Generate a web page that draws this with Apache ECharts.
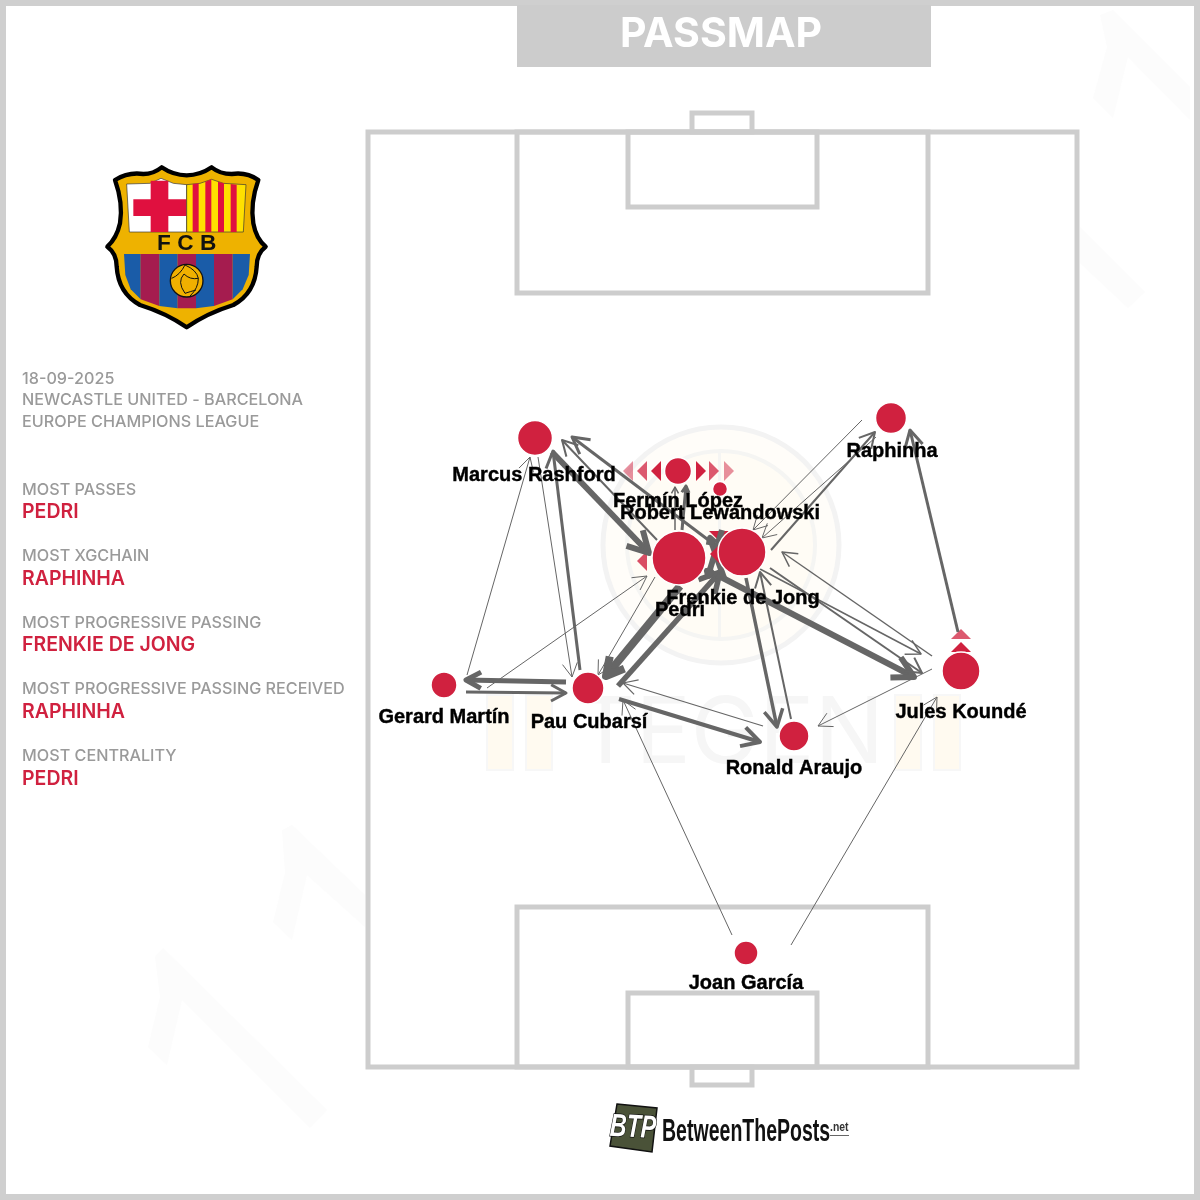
<!DOCTYPE html>
<html>
<head>
<meta charset="utf-8">
<style>html,body{margin:0;padding:0;background:#fff}#passmap{width:1200px;height:1200px}</style>
<script src="https://cdn.jsdelivr.net/npm/echarts@6/dist/echarts.min.js"></script>
</head>
<body>
<div id="passmap"></div>
<script>
var playerNames = ['Marcus Rashford','Fermín López','Robert Lewandowski','Raphinha','Pedri','Frenkie de Jong','Gerard Martín','Pau Cubarsí','Ronald Araujo','Jules Koundé','Joan García'];
var playerX = [535,678,720,891,679,742,444,588,794,961,746];
var playerY = [438,471,489,418,558,552,685,688,736,671,953];
var playerDiameter = [35,27,15,31,54,48,26,32,30,38,24];
var labelX = [534,678,720,892,680,743,444,589,794,961,746];
var labelY = [475,501,513,451,610,598,717,722,768,712,983];

var passFromX = [552,657,715,580,467,538,566,466,487,655,680,618,717,770,760,932,746,791,763,619,932,732,791,958,771,876,862,675,682,724,722];
var passFromY = [452,540,545,670,675,457,682,692,688,577,586,686,575,568,569,656,578,719,726,699,669,935,945,632,550,437,420,530,530,578,530];
var passToX = [649,562,572,553,530,572,466,566,647,598,606,720,914,922,921,782,777,760,623,760,818,623,937,910,875,762,753,675,686,710,708];
var passToY = [553,440,437,451,457,677,680,693,576,675,676,572,677,673,654,552,727,572,683,742,726,700,697,430,432,538,530,487,486,538,576];
var passWidth = [6,2,3,3,1,1,5,3,1,1,8,5.5,6,2,1.5,1.5,3.5,2,1.2,4,1,1,1,3,2,1,1,1.5,3,6,6];

var triangleX = [656,642,628,701,714,729,642,719,961,961];
var triangleY = [471,471,471,471,471,471,561,536,647,634];
var triangleTurn = [90,90,90,-90,-90,-90,90,180,0,0];
var triangleOpacity = [1,0.75,0.5,1,0.75,0.5,0.8,1,1,0.75];
var topTriangleX = [715];
var topTriangleY = [554];
var topTriangleTurn = [90];

var boxLeft = [368,517,628,692,517,628,692];
var boxTop = [132,132,132,113,907,993,1067];
var boxRight = [1077,928,817,752,928,817,752];
var boxBottom = [1067,293,207,132,1067,1067,1085];

var metaLines = ['18-09-2025','NEWCASTLE UNITED - BARCELONA','EUROPE CHAMPIONS LEAGUE'];
var statHeads = ['MOST PASSES','MOST XGCHAIN','MOST PROGRESSIVE PASSING','MOST PROGRESSIVE PASSING RECEIVED','MOST CENTRALITY'];
var statPlayers = ['PEDRI','RAPHINHA','FRENKIE DE JONG','RAPHINHA','PEDRI'];

var RED = '#d0213f';
var PITCH = '#cdcdcd';
var sideFont = 'Inter';

function zip(){
	var cols = arguments, out = [];
	for(var i = 0; i < cols[0].length; i++){
		var row = [];
		for(var j = 0; j < cols.length; j++) row.push(cols[j][i]);
		out.push(row);
	}
	return out;
}

function renderBox(params, api){
	var a = api.coord([api.value(0), api.value(1)]);
	var b = api.coord([api.value(2), api.value(3)]);
	return {
		type:'rect',
		shape:{x:a[0],y:a[1],width:b[0]-a[0],height:b[1]-a[1]},
		style:{fill:'none',stroke:PITCH,lineWidth:5}
	};
}

function renderPass(params, api){
	var a = api.coord([api.value(0), api.value(1)]);
	var b = api.coord([api.value(2), api.value(3)]);
	var w = api.value(4);
	var ang = Math.atan2(b[1]-a[1], b[0]-a[0]);
	var dist = Math.sqrt((b[0]-a[0])*(b[0]-a[0])+(b[1]-a[1])*(b[1]-a[1]));
	var len = Math.min(14 + w*1.6, dist*0.17);
	var spread = 0.5;
	var p1 = [b[0]-len*Math.cos(ang-spread), b[1]-len*Math.sin(ang-spread)];
	var p2 = [b[0]-len*Math.cos(ang+spread), b[1]-len*Math.sin(ang+spread)];
	var lineStyle = {fill:'none',stroke:'#666',lineWidth:w,lineJoin:'round'};
	return {
		type:'group',
		children:[
			{type:'polyline',shape:{points:[a,b]},style:lineStyle},
			{type:'polyline',shape:{points:[p1,b,p2]},style:lineStyle}
		]
	};
}

// crest, drawn in zoomed coordinates then scaled down
function stripe(pts,fill){
	return {type:'polygon',shape:{points:pts},style:{fill:fill}};
}
function renderCrest(params, api){
	var o = api.coord([api.value(0), api.value(1)]);
	return {
		type:'group',x:o[0],y:o[1],scaleX:1/3,scaleY:1/3,
		children:[
			{type:'path',shape:{pathData:'M75 90 Q115 65 160 72 Q190 72 215 52 Q250 76 290 76 Q330 76 365 52 Q390 72 425 72 Q470 65 505 90 Q480 160 490 220 Q498 265 527 290 Q500 310 500 350 Q495 430 430 465 Q350 490 290 532 Q230 490 150 465 Q85 430 80 350 Q80 310 52 290 Q80 265 90 220 Q100 160 75 90 Z'},
				style:{fill:'#eeb200',stroke:'#000',lineWidth:13,lineJoin:'round'}},
			{type:'polygon',shape:{points:[[110,102],[180,100],[213,85],[250,100],[290,104],[290,246],[118,246]]},style:{fill:'#fff',stroke:'#333',lineWidth:2}},
			{type:'rect',shape:{x:182,y:92,width:53,height:154},style:{fill:'#e0103f'}},
			{type:'rect',shape:{x:130,y:148,width:160,height:50},style:{fill:'#e0103f'}},
			{type:'polygon',shape:{points:[[290,104],[330,100],[365,88],[400,100],[468,104],[460,246],[290,246]]},style:{fill:'#ffe000',stroke:'#333',lineWidth:2}},
			{type:'polygon',shape:{points:[[308,102],[326,100],[326,246],[308,246]]},style:{fill:'#e0103f'}},
			{type:'polygon',shape:{points:[[346,95],[364,88],[364,246],[346,246]]},style:{fill:'#e0103f'}},
			{type:'polygon',shape:{points:[[384,95],[402,100],[402,246],[384,246]]},style:{fill:'#e0103f'}},
			{type:'polygon',shape:{points:[[422,102],[440,104],[440,246],[422,246]]},style:{fill:'#e0103f'}},
			stripe([[102,312],[152,312],[152,448],[122,418],[106,375]],'#1a5ca8'),
			stripe([[152,312],[208,312],[208,468],[152,448]],'#a51c4f'),
			stripe([[208,312],[263,312],[263,475],[208,468]],'#1a5ca8'),
			stripe([[263,312],[318,312],[318,475],[263,475]],'#a51c4f'),
			stripe([[318,312],[372,312],[372,468],[318,475]],'#1a5ca8'),
			stripe([[372,312],[428,312],[428,448],[372,468]],'#a51c4f'),
			stripe([[428,312],[480,312],[476,375],[458,418],[428,448]],'#1a5ca8'),
			{type:'circle',shape:{cx:290,cy:392,r:49},style:{fill:'#f0b000',stroke:'#111',lineWidth:4}},
			{type:'path',shape:{pathData:'M285 345 Q270 375 245 385 M285 345 Q320 360 325 385 Q300 390 282 372 M282 372 Q260 395 285 430 M325 385 Q325 415 300 438 M285 430 Q300 425 318 420'},
				style:{fill:'none',stroke:'#111',lineWidth:3}},
			{type:'text',x:290,y:280,style:{text:'F C B',fill:'#111',font:'700 68px "Liberation Sans"',align:'center',verticalAlign:'middle'}}
		]
	};
}

var graphics = [];
// frame and title
graphics.push({type:'rect',shape:{x:3,y:3,width:1194,height:1194},style:{fill:'none',stroke:'#cfcfcf',lineWidth:6},z:0});
graphics.push({type:'rect',shape:{x:517,y:5,width:414,height:62},style:{fill:'#cccccc'},z:0});
graphics.push({type:'text',x:721,y:35,style:{text:'PASSMAP',fill:'#fff',font:'700 41px Inter',align:'center',verticalAlign:'middle'},z:1});

// watermark
graphics.push({type:'circle',shape:{cx:721,cy:545,r:118},style:{fill:'#fffdf9',stroke:'#f3f3f3',lineWidth:5},z:0});
graphics.push({type:'circle',shape:{cx:721,cy:545,r:94},style:{fill:'#fffcf5',stroke:'#f5f5f3',lineWidth:4},z:0});
graphics.push({type:'rect',shape:{x:718,y:452,width:3,height:186},style:{fill:'#f5f5f3'},z:0});
graphics.push({type:'text',x:730,y:735,style:{text:'TEGEN',fill:'#f6f6f6',font:'400 92px Inter',align:'center',verticalAlign:'middle'},z:0});
graphics.push({type:'rect',shape:{x:487,y:695,width:26,height:75},style:{fill:'#fffaf0',stroke:'#f7f7f7',lineWidth:2},z:0});
graphics.push({type:'rect',shape:{x:526,y:695,width:26,height:75},style:{fill:'#fffaf0',stroke:'#f7f7f7',lineWidth:2},z:0});
graphics.push({type:'rect',shape:{x:895,y:695,width:26,height:75},style:{fill:'#fffaf0',stroke:'#f7f7f7',lineWidth:2},z:0});
graphics.push({type:'rect',shape:{x:934,y:695,width:26,height:75},style:{fill:'#fffaf0',stroke:'#f7f7f7',lineWidth:2},z:0});
var ghost = '#fcfcfc';
graphics.push({type:'polygon',shape:{points:[[155,957],[163,948],[327,1110],[310,1128],[182,1000],[167,1065],[148,1047],[160,997]]},style:{fill:ghost},z:0});
graphics.push({type:'polygon',shape:{points:[[282,830],[292,825],[365,895],[365,927],[307,875],[292,940],[273,922],[285,873]]},style:{fill:ghost},z:0});
graphics.push({type:'polygon',shape:{points:[[1100,15],[1113,10],[1190,87],[1190,120],[1128,57],[1113,118],[1093,98],[1107,47]]},style:{fill:ghost},z:0});
graphics.push({type:'polygon',shape:{points:[[1080,227],[1145,292],[1128,308],[1080,263]]},style:{fill:ghost},z:0});

// left column text
for(var i = 0; i < metaLines.length; i++){
	graphics.push({type:'text',x:22,y:[379,400,422][i],style:{text:metaLines[i],fill:'#9a9a9a',font:'500 16.2px '+sideFont,verticalAlign:'middle'},z:1});
}
var headY = [490,556,623,689,756];
var nameY = [512,579,645,712,779];
for(var i = 0; i < statHeads.length; i++){
	graphics.push({type:'text',x:22,y:headY[i],style:{text:statHeads[i],fill:'#9a9a9a',font:'500 16.2px '+sideFont,verticalAlign:'middle'},z:1});
	graphics.push({type:'text',x:22,y:nameY[i],style:{text:statPlayers[i],fill:RED,font:'600 19.5px '+sideFont,verticalAlign:'middle'},z:1});
}

// between the posts logo
graphics.push({type:'polygon',shape:{points:[[617,1104],[657,1108],[652,1152],[610,1146]]},style:{fill:'#4a5238',stroke:'#111',lineWidth:1.5},z:1});
graphics.push({type:'text',x:633,y:1128,scaleX:0.72,rotation:-0.05,style:{text:'BTP',fill:'#fff',stroke:'#111',lineWidth:1.5,font:'italic 700 32px "Liberation Sans"',align:'center',verticalAlign:'middle'},z:1});
graphics.push({type:'text',x:662,y:1132,scaleX:0.63,style:{text:'BetweenThePosts',fill:'#111',font:'700 31px "Liberation Sans"',verticalAlign:'middle'},z:1});
graphics.push({type:'text',x:830,y:1127,scaleX:0.8,style:{text:'.net',fill:'#333',font:'700 13px "Liberation Sans"',verticalAlign:'middle'},z:1});
graphics.push({type:'rect',shape:{x:830,y:1135,width:19,height:1},style:{fill:'#666'},z:1});

var option = {
	animation:false,
	backgroundColor:'#fff',
	graphic:graphics,
	grid:{left:0,right:0,top:0,bottom:0},
	xAxis:{type:'value',min:0,max:1200,show:false},
	yAxis:{type:'value',min:0,max:1200,inverse:true,show:false},
	series:[
		{
			type:'custom',name:'pitch',z:2,silent:true,clip:false,
			renderItem:renderBox,
			encode:{x:[0,2],y:[1,3]},
			data:zip(boxLeft,boxTop,boxRight,boxBottom)
		},
		{
			type:'custom',name:'crest',z:2,silent:true,clip:false,
			renderItem:renderCrest,
			encode:{x:0,y:1},
			data:[[90,150]]
		},
		{
			type:'scatter',name:'triangles',z:3,silent:true,
			symbol:'triangle',symbolSize:[20,10],
			data:zip(triangleX,triangleY,triangleTurn,triangleOpacity).map(function(t){
				return {value:[t[0],t[1]],symbolRotate:t[2],itemStyle:{color:RED,opacity:t[3]}};
			})
		},
		{
			type:'custom',name:'passes',z:4,silent:true,clip:false,
			renderItem:renderPass,
			encode:{x:[0,2],y:[1,3]},
			data:zip(passFromX,passFromY,passToX,passToY,passWidth)
		},
		{
			type:'scatter',name:'top triangles',z:4,silent:true,
			symbol:'triangle',symbolSize:[20,10],
			data:zip(topTriangleX,topTriangleY,topTriangleTurn).map(function(t){
				return {value:[t[0],t[1]],symbolRotate:t[2],itemStyle:{color:RED,opacity:1}};
			})
		},
		{
			type:'scatter',name:'players',z:5,silent:true,
			symbolSize:function(v){return v[2];},
			itemStyle:{color:RED,borderColor:'#fff',borderWidth:1.5,opacity:1},
			data:zip(playerX,playerY,playerDiameter)
		},
		{
			type:'scatter',name:'labels',z:6,silent:true,
			symbolSize:1,itemStyle:{color:'rgba(0,0,0,0)',opacity:1},
			label:{show:true,position:'inside',color:'#000',opacity:1,textBorderColor:'#000',textBorderWidth:0.4,fontFamily:'Liberation Sans',fontWeight:'bold',fontSize:20,
				formatter:function(p){return p.value[2];}},
			data:zip(labelX,labelY,playerNames)
		}
	]
};

var myChart = echarts.init(document.getElementById('passmap'));
myChart.setOption(option);
</script>
</body>
</html>
